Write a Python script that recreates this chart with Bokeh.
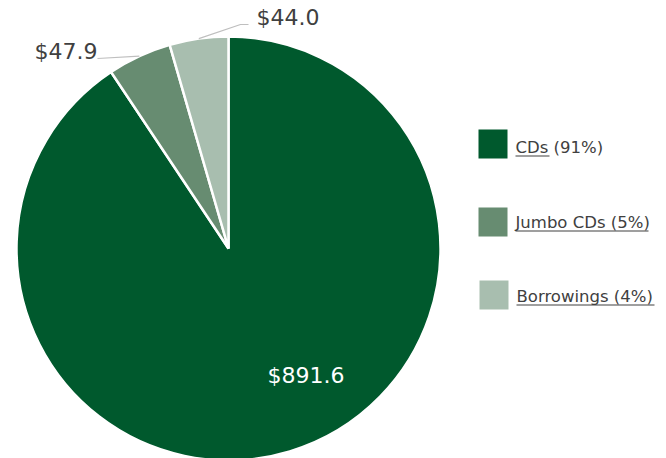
import numpy as np
from bokeh.plotting import figure
from bokeh.models import Range1d, ColumnDataSource
from bokeh.core.properties import value
from bokeh.embed import file_html
from bokeh.resources import INLINE

# ---- data ----
categories = ["CDs", "Jumbo CDs", "Borrowings"]
amounts = [891.6, 47.9, 44.0]
value_labels = ["$891.6", "$47.9", "$44.0"]
legend_labels = ["CDs (91%)", "Jumbo CDs (5%)", "Borrowings (4%)"]
colors = ["#00592D", "#678C71", "#A8BEAF"]

W, H = 666, 458

def Y(py):
    return H - py

p = figure(width=W, height=H, output_backend="svg", toolbar_location=None,
           x_range=Range1d(0, W), y_range=Range1d(0, H),
           x_axis_type=None, y_axis_type=None, min_border=0)
p.grid.visible = False
p.outline_line_color = None
p.background_fill_color = "white"
p.border_fill_color = "white"

cx, cy, r = 228, Y(248), 212
vals = np.array(amounts, dtype=float)
frac = vals / vals.sum()
cum = np.concatenate([[0], np.cumsum(frac)])
start = np.pi / 2 - cum[:-1] * 2 * np.pi
end = np.pi / 2 - cum[1:] * 2 * np.pi
mid = (start + end) / 2

src = ColumnDataSource(dict(start=start, end=end, color=colors))
p.wedge(x=cx, y=cy, radius=r, start_angle="start", end_angle="end",
        direction="clock", fill_color="color", line_color="white",
        line_width=2.5, source=src)

# leader lines from slice arc midpoints
ax = cx + r * np.cos(mid)
ay = cy + r * np.sin(mid)
p.line(x=[ax[1], 97], y=[ay[1], Y(58)], line_color="#BFBFBF", line_width=1.2)
p.line(x=[ax[2], 240, 248], y=[ay[2], Y(24), Y(24)], line_color="#BFBFBF", line_width=1.2)

font = value("DejaVu Sans")
# value labels (baseline positions corrected for renderer offset)
p.text(x=[267], y=[Y(375)], text=[value_labels[0]], text_font=font,
       text_font_size="22px", text_color="white", text_baseline="alphabetic")
p.text(x=[34, 256], y=[Y(51), Y(17)], text=[value_labels[1], value_labels[2]],
       text_font=font, text_font_size="22px", text_color="#404040",
       text_baseline="alphabetic")

# legend
sq_x = [492.5, 492.5, 493.5]
sq_y = [Y(143.5), Y(221.5), Y(294.5)]
p.rect(x=sq_x, y=sq_y, width=29, height=29, fill_color=colors, line_color=None)
base = [153, 228, 302]
p.text(x=[515, 515, 516], y=[Y(b - 6) for b in base], text=legend_labels,
       text_font=font, text_font_size="16.5px", text_color="#404040",
       text_baseline="alphabetic")
# underlines
ul_x0 = [515, 515, 516]
ul_x1 = [549, 648, 654]
ul_y = [Y(b + 2.5) for b in base]
p.segment(x0=ul_x0, y0=ul_y, x1=ul_x1, y1=ul_y, line_color="#404040", line_width=1.2)

open("out.html", "w").write(file_html(p, INLINE))
